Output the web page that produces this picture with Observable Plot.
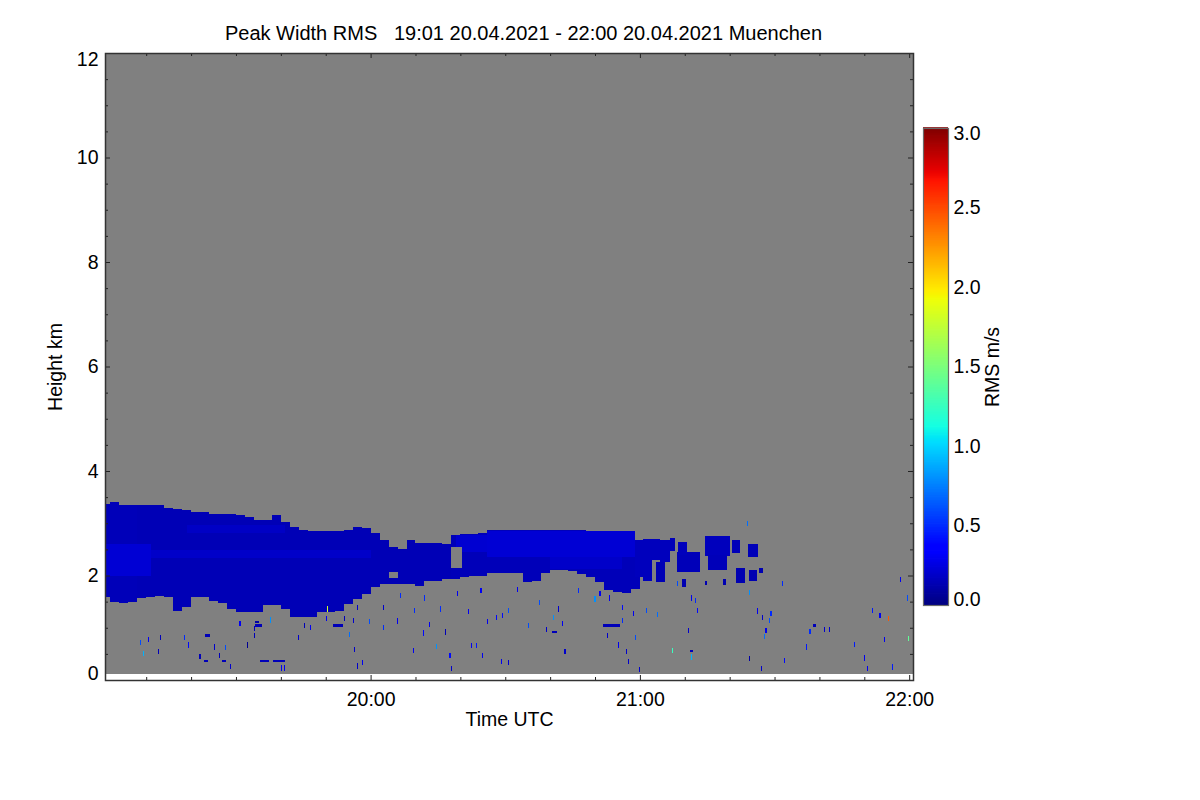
<!DOCTYPE html>
<html><head><meta charset="utf-8">
<script src="https://cdn.jsdelivr.net/npm/d3@7"></script>
<script src="https://cdn.jsdelivr.net/npm/@observablehq/plot@0.6"></script>
<style>
html,body{margin:0;padding:0;background:#fff;}
#wrap{position:relative;width:1200px;height:800px;font-family:"Liberation Sans",Arial,Helvetica,sans-serif;}
#main{position:absolute;left:0;top:0;}
#cbar{position:absolute;left:923px;top:118px;}
</style></head><body><div id="wrap"><div id="main"></div><div id="cbar"></div></div>
<script>
// ---------- texts ----------
const titleText = "Peak Width RMS\u00A0\u00A0\u00A019:01 20.04.2021 - 22:00 20.04.2021 Muenchen";
const xLabel = "Time UTC";
const yLabel = "Height km";
const cLabel = "RMS m/s";

// ---------- axes ----------
const frameStartMin = 0.82, frameEndMin = 180.85;   // minutes after 19:00 UTC
const xMajorLabels = ["20:00", "21:00", "22:00"];
const yTickLabels = [0, 2, 4, 6, 8, 10, 12];
const cTickLabels = [0, 0.5, 1, 1.5, 2, 2.5, 3];
const gateMinKm = 0.12;

// ---------- main cloud body: 2-minute columns (minutes after 19:00) ----------
const colStart = [0,2,4,6,8,10,12,14,16,18, 20,22,24,26,28,30,32,34,36,38,
  40,42,44,46,48,50,52,54,56,58, 60,62,64,66,68,70,72,74,76,78,
  80,82,84,86,88,90,92,94,96,98, 100,102,104,106,108,110,112,114,116,118];
const colTop = [3.37,3.41,3.34,3.34,3.34,3.34,3.34,3.30,3.27,3.25, 3.21,3.21,3.17,3.17,3.17,3.16,3.12,3.06,3.06,3.15,
  3.02,2.92,2.88,2.85,2.85,2.85,2.85,2.88,2.92,2.90, 2.82,2.67,2.55,2.50,2.67,2.63,2.63,2.63,2.60,2.78,
  2.80,2.80,2.82,2.88,2.88,2.88,2.88,2.88,2.88,2.88, 2.88,2.88,2.88,2.88,2.86,2.82,2.82,2.80,2.72,2.66];
const colBase = [1.59,1.50,1.48,1.50,1.57,1.58,1.60,1.59,1.33,1.40, 1.59,1.59,1.52,1.48,1.36,1.30,1.30,1.30,1.43,1.43,
  1.35,1.20,1.20,1.20,1.30,1.31,1.33,1.45,1.55,1.65, 1.78,1.84,1.84,1.84,1.84,1.80,1.90,1.90,1.94,1.94,
  1.97,2.00,2.00,2.04,2.04,2.04,2.04,1.87,1.90,2.04, 2.10,2.10,2.08,2.02,1.97,1.87,1.72,1.68,1.66,1.75];
const colRms = [0.15,0.15,0.15,0.15,0.14,0.14,0.14,0.14,0.14,0.14, 0.14,0.14,0.14,0.14,0.14,0.14,0.14,0.14,0.14,0.14,
  0.14,0.14,0.14,0.14,0.14,0.14,0.14,0.14,0.14,0.14, 0.14,0.14,0.14,0.14,0.14,0.14,0.14,0.14,0.14,0.15,
  0.15,0.15,0.15,0.15,0.15,0.15,0.15,0.15,0.15,0.15, 0.15,0.15,0.15,0.15,0.15,0.15,0.15,0.15,0.15,0.15];

// brighter internal layers
const layerStart = [0.8, 11, 19, 79, 86, 100];
const layerEnd   = [11, 60, 41, 86, 119, 116];
const layerLo    = [2.00, 2.33, 2.82, 2.45, 2.35, 2.12];
const layerHi    = [2.60, 2.48, 2.97, 2.78, 2.86, 2.35];
const layerRms   = [0.22, 0.19, 0.18, 0.21, 0.22, 0.19];

// holes with no signal inside the cloud
const gapStart = [78.0, 64.0];
const gapEnd   = [80.3, 66.0];
const gapLo    = [2.15, 1.96];
const gapHi    = [2.55, 2.06];

// broken cloud patches after 21:00
const patchStart = [119.0, 120.7, 122.7, 123.5, 124.5, 126.7, 128.2, 129.3, 128.6, 134.5, 135.2, 134.4, 138.5, 140.5, 141.4, 144.0, 144.3, 146.5];
const patchEnd   = [120.7, 122.7, 124.5, 125.7, 126.7, 127.8, 133.4, 130.2, 130.4, 140.1, 139.3, 135.0, 139.2, 142.3, 143.4, 146.3, 146.0, 147.4];
const patchLo    = [1.97, 1.90, 2.30, 1.87, 2.25, 2.46, 2.07, 1.78, 2.40, 2.38, 2.10, 1.82, 1.82, 2.44, 1.85, 2.36, 1.90, 2.05];
const patchHi    = [2.67, 2.70, 2.70, 2.25, 2.67, 2.71, 2.45, 1.93, 2.64, 2.76, 2.40, 1.90, 1.93, 2.67, 2.15, 2.61, 2.10, 2.15];
const patchRms   = [0.16, 0.16, 0.16, 0.14, 0.16, 0.15, 0.15, 0.13, 0.16, 0.16, 0.15, 0.13, 0.13, 0.15, 0.13, 0.15, 0.13, 0.13];

// isolated echoes (minutes after 19:00, km, m/s)
const speckT = [8.8,9.4,10.5,13.1,12.7,18.6,19.4,25.2,27.6,26.4,28.7,22.0,30.9,34.2,32.5,34.2,37.6,40.2,40.9,43.9,
  45.2,46.7,50.1,54.2,56.2,55.3,56.5,57.1,58.2,59.7,62.8,66.0,57.0,62.8,50.4,66.6,69.7,72.0,73.1,71.7,
  69.5,74.6,75.5,76.6,77.7,78.1,79.3,81.8,82.4,83.6,84.6,84.9,86.1,88.1,89.4,89.2,90.7,90.8,92.7,95.1,
  97.7,99.2,100.7,101.8,102.8,103.3,106.3,110.0,111.1,112.7,113.3,115.2,116.2,116.2,117.1,117.4,118.5,119.1,120.0,121.4,
  123.9,127.2,128.3,130.8,131.4,131.5,132.3,132.8,143.9,151.7,144.5,146.2,147.3,149.2,148.8,148.1,147.7,144.5,147.1,152.2,
  157.2,157.9,161.2,162.2,167.9,170.0,170.7,171.9,173.5,175.4,174.5,176.3,178.1,179.6,179.9];
const speckH = [0.72,0.50,0.77,0.82,0.55,0.81,0.67,0.63,0.62,0.47,0.26,0.45,1.08,0.99,0.67,0.85,1.15,0.23,0.23,0.82,
  1.04,1.01,1.17,1.17,1.14,0.87,0.58,0.27,0.34,1.12,1.00,1.13,1.39,1.39,1.36,1.62,1.33,1.57,1.06,0.90,
  0.57,0.64,1.36,0.92,0.47,0.22,1.65,1.31,0.66,0.66,1.71,0.47,1.12,1.20,1.24,0.36,0.33,1.33,1.73,1.04,
  1.49,0.97,1.20,1.36,1.08,0.55,1.71,1.55,1.65,0.85,1.57,0.67,1.39,1.14,0.55,0.36,1.27,0.82,0.20,1.33,
  1.25,0.57,1.84,0.95,0.44,1.57,1.52,1.33,3.00,1.84,1.68,1.32,1.20,1.27,1.14,0.95,0.83,0.41,0.22,0.37,
  0.63,0.93,0.97,0.97,0.68,0.42,0.22,1.33,1.24,1.17,0.77,0.25,1.92,1.57,0.79];
const speckRms = [0.6,0.9,0.3,0.15,0.15,0.5,0.4,0.2,0.6,0.15,0.2,0.15,0.3,0.15,0.05,0.15,0.8,0.3,0.3,0.2,
  0.15,0.3,0.3,0.15,0.2,0.7,0.2,0.2,0.3,0.6,0.5,0.3,0.2,0.2,1.8,0.5,0.5,0.5,0.3,0.4,
  0.3,0.8,0.5,0.15,0.4,0.2,0.3,0.3,0.3,0.45,0.3,0.3,0.3,0.4,0.4,0.3,0.2,0.6,0.3,0.6,
  0.6,0.2,0.8,0.2,0.3,0.2,0.5,0.8,0.3,0.2,0.3,0.3,0.4,0.5,0.2,0.2,0.3,0.6,0.2,0.6,
  0.7,1.25,0.6,0.2,0.9,0.3,0.5,0.4,0.7,0.5,0.8,0.3,0.2,0.5,0.6,0.3,0.7,0.1,0.2,0.4,
  0.45,0.5,0.2,0.2,0.45,0.3,0.3,0.45,0.3,2.45,0.3,0.45,0.3,0.6,1.4];

// short horizontal echo streaks
const dashStart = [23.1,22.9,26.8,34.2,34.3,35.4,38.2,51.6,100.4,111.8,131.2,158.6];
const dashEnd   = [24.2,23.7,27.7,35.1,35.8,37.3,40.9,53.9,101.5,115.6,131.8,159.2];
const dashH     = [0.85,0.36,0.36,1.11,1.04,0.36,0.36,1.04,0.92,1.04,0.55,1.04];
const dashRms   = [0.15,0.15,0.15,0.10,0.15,0.15,0.15,0.15,0.15,0.15,0.15,0.15];

// ---------- helpers ----------
const t0 = Date.UTC(2021, 3, 20, 19, 0);
const toTime = m => new Date(t0 + m * 60000);
const hhmm = s => { const [h, m] = s.split(":").map(Number); return (h - 19) * 60 + m; };

function lerpStops(t, stops) {
  for (let i = 1; i < stops.length; i++) {
    if (t <= stops[i][0]) {
      const [a, va] = stops[i - 1], [b, vb] = stops[i];
      return va + (vb - va) * (t - a) / (b - a);
    }
  }
  return stops[stops.length - 1][1];
}
function jet(t) {
  t = Math.max(0, Math.min(1, t));
  const r = lerpStops(t, [[0,0],[0.35,0],[0.66,1],[0.89,1],[1,0.5]]);
  const g = lerpStops(t, [[0,0],[0.125,0],[0.375,1],[0.64,1],[0.91,0],[1,0]]);
  const b = lerpStops(t, [[0,0.5],[0.11,1],[0.34,1],[0.65,0],[1,0]]);
  return `rgb(${Math.round(r*255)},${Math.round(g*255)},${Math.round(b*255)})`;
}

const W = 1200, H = 800, ML = 105, MR = 287, MT = 53, MB = 120;
const plotW = W - ML - MR, plotH = H - MT - MB;
const FONT = "'Liberation Sans', Arial, Helvetica, sans-serif";
const FS = 19.5, FST = 20;
const ink = "#222";
const noSignal = "#808080";
const colWidthMin = 2;
const speckW = 0.25, speckHt = 0.1, dashHt = 0.045;

const xDomain = [toTime(frameStartMin), toTime(frameEndMin)];
const colorScale = {type: "linear", domain: [0, 3], interpolate: jet, clamp: true};

const cols = colStart.map((s, i) => ({x1: toTime(s), x2: toTime(s + colWidthMin), y1: colBase[i], y2: colTop[i], v: colRms[i]}));
const layers = layerStart.map((s, i) => ({x1: toTime(s), x2: toTime(layerEnd[i]), y1: layerLo[i], y2: layerHi[i], v: layerRms[i]}));
const gaps = gapStart.map((s, i) => ({x1: toTime(s), x2: toTime(gapEnd[i]), y1: gapLo[i], y2: gapHi[i]}));
const patches = patchStart.map((s, i) => ({x1: toTime(s), x2: toTime(patchEnd[i]), y1: patchLo[i], y2: patchHi[i], v: patchRms[i]}));
const specks = speckT.map((t, i) => ({x1: toTime(t - speckW / 2), x2: toTime(t + speckW / 2), y1: speckH[i] - speckHt / 2, y2: speckH[i] + speckHt / 2, v: speckRms[i]}));
const dashes = dashStart.map((s, i) => ({x1: toTime(s), x2: toTime(dashEnd[i]), y1: dashH[i] - dashHt / 2, y2: dashH[i] + dashHt / 2, v: dashRms[i]}));

const xMajor = xMajorLabels.map(s => toTime(hhmm(s)));
const xMinor = d3.utcMinute.every(10).range(toTime(1), toTime(181)).filter(d => !xMajor.some(m => +m === +d));
const yMinor = d3.range(1, 24).map(k => k * 0.5).filter(v => !yTickLabels.includes(v));
const fmtHM = d3.utcFormat("%H:%M");

const rectOpts = {x1: "x1", x2: "x2", y1: "y1", y2: "y2", inset: 0, shapeRendering: "crispEdges", clip: true};

const main = Plot.plot({
  width: W, height: H, marginLeft: ML, marginRight: MR, marginTop: MT, marginBottom: MB,
  style: {fontFamily: FONT, fontSize: FS + "px", background: "transparent", color: "#000", overflow: "visible"},
  x: {type: "utc", domain: xDomain, axis: null},
  y: {domain: [0, 12], axis: null},
  color: colorScale,
  marks: [
    Plot.rect([{x1: xDomain[0], x2: xDomain[1], y1: gateMinKm, y2: 12}], {...rectOpts, fill: noSignal}),
    Plot.rect(cols, {...rectOpts, fill: "v"}),
    Plot.rect(layers, {...rectOpts, fill: "v"}),
    Plot.rect(gaps, {...rectOpts, fill: noSignal}),
    Plot.rect(patches, {...rectOpts, fill: "v"}),
    Plot.rect(specks, {...rectOpts, fill: "v"}),
    Plot.rect(dashes, {...rectOpts, fill: "v"}),
    // inward ticks on all four sides
    Plot.tickX(xMinor, {x: d => d, insetTop: plotH - 3, stroke: ink}),
    Plot.tickX(xMajor, {x: d => d, insetTop: plotH - 5, stroke: ink}),
    Plot.tickX(xMinor, {x: d => d, insetBottom: plotH - 3, stroke: ink}),
    Plot.tickX(xMajor, {x: d => d, insetBottom: plotH - 5, stroke: ink}),
    Plot.tickY(yMinor, {y: d => d, insetRight: plotW - 3, stroke: ink}),
    Plot.tickY(yTickLabels, {y: d => d, insetRight: plotW - 5, stroke: ink}),
    Plot.tickY(yMinor, {y: d => d, insetLeft: plotW - 3, stroke: ink}),
    Plot.tickY(yTickLabels, {y: d => d, insetLeft: plotW - 5, stroke: ink}),
    Plot.frame({stroke: "#333", strokeWidth: 1.5}),
    // tick labels
    Plot.text(xMajor, {x: d => d, frameAnchor: "bottom", lineAnchor: "middle", dy: 19, text: d => fmtHM(d), fontSize: FS}),
    Plot.text(yTickLabels.filter(v => v > 0 && v < 12), {y: d => d, frameAnchor: "left", lineAnchor: "middle", dx: -7, textAnchor: "end", text: d => String(d), fontSize: FS}),
    Plot.text([0], {y: d => d, frameAnchor: "left", lineAnchor: "middle", dx: -7, dy: -7, textAnchor: "end", text: d => String(d), fontSize: FS}),
    Plot.text([12], {y: d => d, frameAnchor: "left", lineAnchor: "middle", dx: -7, dy: 6, textAnchor: "end", text: d => String(d), fontSize: FS}),
    // titles
    Plot.text([titleText], {frameAnchor: "top", lineAnchor: "middle", textAnchor: "middle", dx: 14, dy: -20, fontSize: FST}),
    Plot.text([xLabel], {frameAnchor: "bottom", lineAnchor: "middle", textAnchor: "middle", dy: 39, fontSize: FS}),
    Plot.text([yLabel], {frameAnchor: "left", lineAnchor: "middle", textAnchor: "middle", dx: -50, rotate: -90, fontSize: FS})
  ]
});
document.getElementById("main").appendChild(main);

// ---------- colour bar ----------
const cbStep = 0.01;
const cbVals = d3.range(0, 3, cbStep);
const cbar = Plot.plot({
  width: 105, height: 497, marginLeft: 0, marginRight: 80, marginTop: 10, marginBottom: 10,
  style: {fontFamily: FONT, fontSize: FS + "px", background: "transparent", color: "#000", overflow: "visible"},
  x: {domain: [0, 1], axis: null},
  y: {domain: [0, 3], axis: null},
  color: colorScale,
  marks: [
    Plot.rect(cbVals, {x1: 0, x2: 1, y1: d => d, y2: d => d + cbStep * 1.5, fill: d => d + cbStep / 2, inset: 0}),
    Plot.frame({stroke: "#6a6a6a", strokeWidth: 1.2}),
    Plot.text(cTickLabels.filter(v => v > 0 && v < 3), {y: d => d, frameAnchor: "right", lineAnchor: "middle", dx: 5, textAnchor: "start", text: d => d.toFixed(1), fontSize: FS}),
    Plot.text([0], {y: d => d, frameAnchor: "right", lineAnchor: "middle", dx: 5, dy: -6, textAnchor: "start", text: d => d.toFixed(1), fontSize: FS}),
    Plot.text([3], {y: d => d, frameAnchor: "right", lineAnchor: "middle", dx: 5, dy: 5, textAnchor: "start", text: d => d.toFixed(1), fontSize: FS}),
    Plot.text([cLabel], {frameAnchor: "right", lineAnchor: "middle", textAnchor: "middle", dx: 44, rotate: -90, fontSize: FS})
  ]
});
document.getElementById("cbar").appendChild(cbar);
</script>
</body></html>
